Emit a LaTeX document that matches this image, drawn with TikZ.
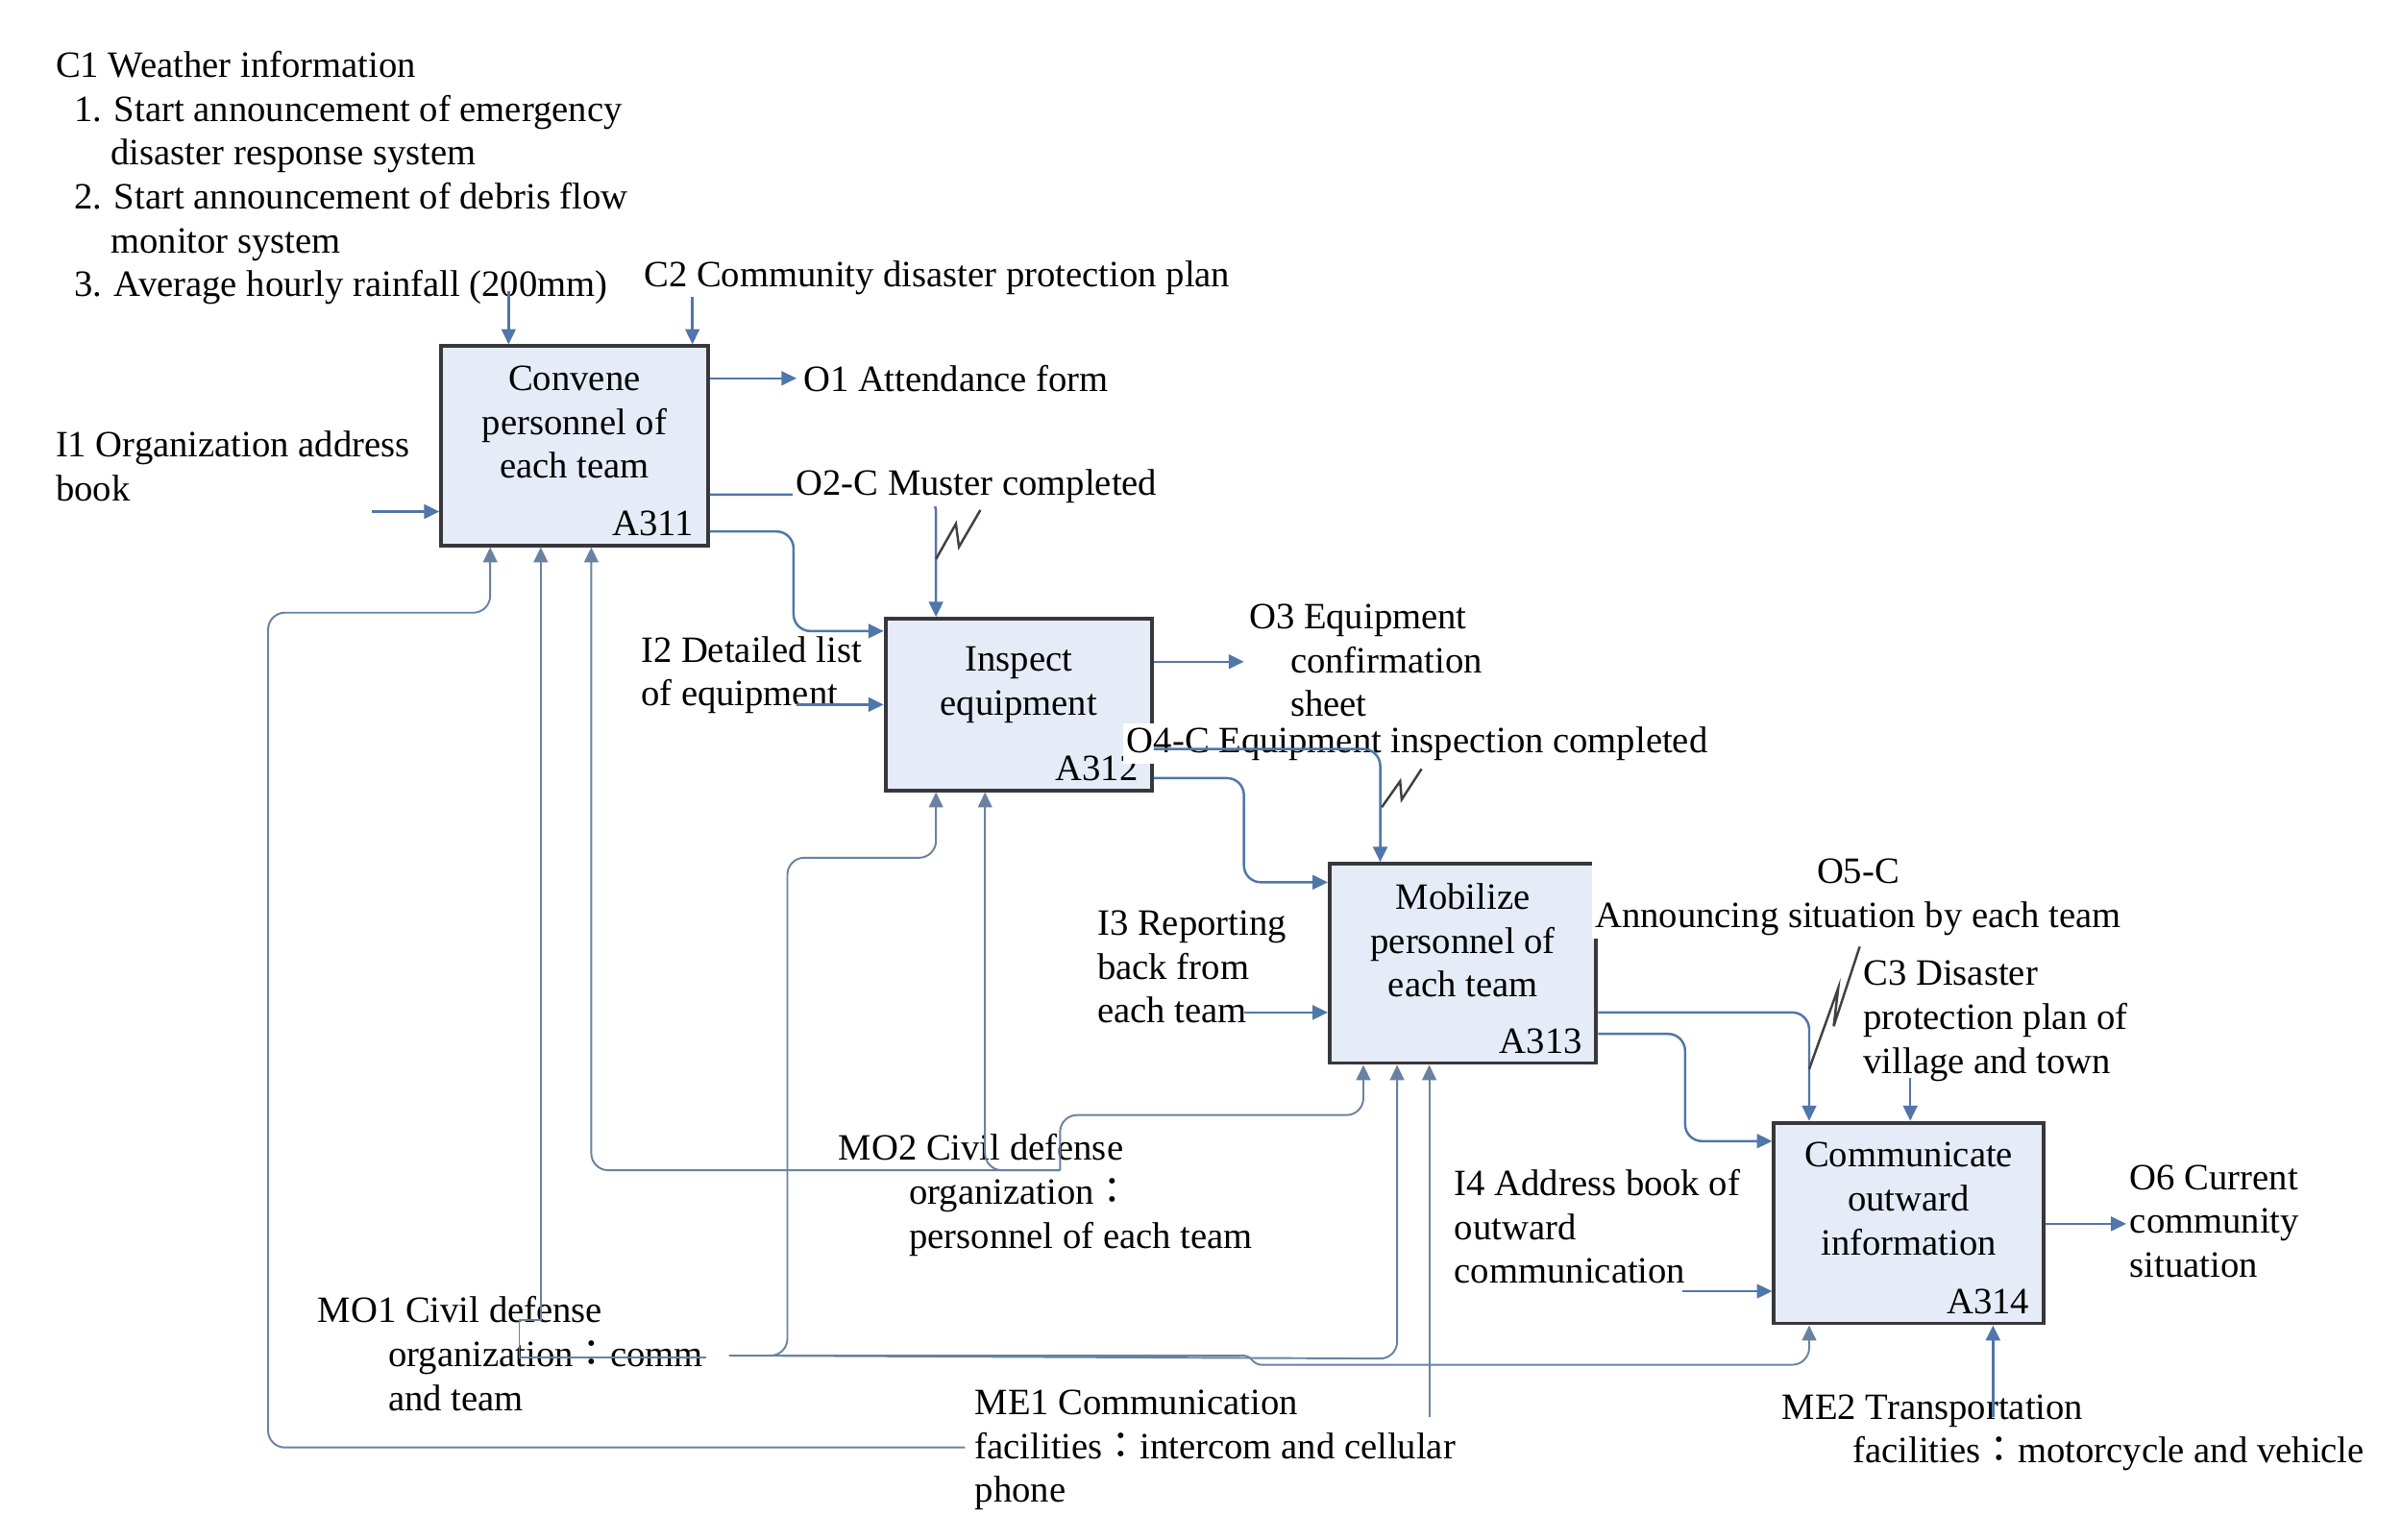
\documentclass[tikz,border=0pt]{standalone}
\usepackage{fontspec}
\setmainfont{Liberation Serif}
\newfontfamily\cjk{Noto Sans CJK TC}
\usetikzlibrary{arrows.meta, positioning}

\definecolor{flowblue}{RGB}{80, 118, 170}
\definecolor{mechblue}{RGB}{105, 130, 160}
\definecolor{boxfill}{RGB}{229, 235, 247}
\definecolor{boxline}{RGB}{55, 55, 60}

\newcommand{\fwcolon}{{\cjk ：}}

\begin{document}
\begin{tikzpicture}[x=0.015944cm, y=-0.015944cm,
  font=\fontsize{11}{13}\selectfont,
  proc/.style={draw=boxline, line width=1.1pt, fill=boxfill, inner sep=0pt},
  ptext/.style={align=center, inner sep=0pt},
  pcode/.style={inner sep=0pt},
  lbl/.style={anchor=north west, align=left, inner sep=0pt},
  cover/.style={fill=white, inner sep=1pt},
  flow/.style={draw=flowblue, line width=0.7pt, rounded corners=5pt,
    -{Triangle[length=4.5pt, width=4.2pt]}},
  mech/.style={flow, draw=mechblue, line width=0.55pt},
  squig/.style={draw=black!75, line width=0.7pt}]
  \useasboundingbox (0,0) rectangle (1568,1005);

  % Activity boxes
  \node[proc, minimum width=2.774cm, minimum height=2.073cm] (a311) at (375,291) {};
  \node[proc, minimum width=2.774cm, minimum height=1.786cm] (a312) at (665,460) {};
  \node[proc, minimum width=2.774cm, minimum height=2.073cm] (a313) at (955,629) {};
  \node[proc, minimum width=2.806cm, minimum height=2.089cm] (a314) at (1246,798.5) {};

  \node[ptext, below=6.2pt of a311.north] (a311t) {Convene\\personnel of\\each team};
  \node[ptext, below=8.6pt of a312.north] (a312t) {Inspect\\equipment};
  \node[ptext, below=6.2pt of a313.north] (a313t) {Mobilize\\personnel of\\each team};
  \node[ptext, below=6.2pt of a314.north] (a314t) {Communicate\\outward\\information};
  \node[pcode, above left=3.2pt and 4.5pt of a311.south east] (a311c) {A311};
  \node[pcode, above left=3.2pt and 4.5pt of a312.south east] (a312c) {A312};
  \node[pcode, above left=3.2pt and 4.5pt of a313.south east] (a313c) {A313};
  \node[pcode, above left=3.2pt and 4.5pt of a314.south east] (a314c) {A314};

  % Labels
  \node[lbl] (c1) at (36,33) {C1 Weather information\\
    \hspace*{5.4pt}1. Start announcement of emergency\\
    \hspace*{16.3pt}disaster response system\\
    \hspace*{5.4pt}2. Start announcement of debris flow\\
    \hspace*{16.3pt}monitor system\\
    \hspace*{5.4pt}3. Average hourly rainfall (200mm)};
  \node[lbl] (c2) at (420,170) {C2 Community disaster protection plan};
  \node[lbl] (o1) at (524,238) {O1 Attendance form};
  \node[lbl] (i1) at (36,281) {I1 Organization address\\book};
  \node[lbl] (i2) at (418,415) {I2 Detailed list\\of equipment};
  \node[lbl] (o3) at (815,394) {O3 Equipment\\\hspace*{12.2pt}confirmation\\\hspace*{12.2pt}sheet};
  \node[lbl, cover] (o4) at (733,472) {O4-C Equipment inspection completed};
  \node[lbl] (i3) at (716,594) {I3 Reporting\\back from\\each team};
  \node[anchor=north, align=center, cover] (o5) at (1213,558) {O5-C\\Announcing situation by each team};
  \node[lbl] (c3) at (1216,627) {C3 Disaster\\protection plan of\\village and town};
  \node[lbl] (i4) at (949,763) {I4 Address book of\\outward\\communication};
  \node[lbl] (o6) at (1390,760) {O6 Current\\community\\situation};
  \node[lbl] (mo2) at (547,740) {MO2 Civil defense\\
    \hspace*{20.9pt}organization\fwcolon\\
    \hspace*{20.9pt}personnel of each team};
  \node[lbl] (mo1) at (207,846) {MO1 Civil defense\\
    \hspace*{20.9pt}organization\fwcolon comm\\
    \hspace*{20.9pt}and team};
  \node[lbl] (me1) at (636,907) {ME1 Communication\\
    facilities\fwcolon intercom and cellular\\phone};
  \node[lbl] (me2) at (1163,910) {ME2 Transportation\\
    \hspace*{20.9pt}facilities\fwcolon motorcycle and vehicle};

  % Free ends
  \coordinate (c1end) at (332,190);
  \coordinate (c2end) at (452,194);
  \coordinate (o1tip) at (520,247);
  \coordinate (i1end) at (243,334);
  \coordinate (i2end) at (520,460);
  \coordinate (o3tip) at (812,432);
  \coordinate (i3end) at (812,661);
  \coordinate (c3end) at (1247,704);
  \coordinate (i4end) at (1098,843);
  \coordinate (o6tip) at (1388,799);
  \coordinate (me2end) at (1301,925);
  \coordinate (me1src) at (630,945);
  \coordinate (me1up) at (933,925);
  \coordinate (mo1src) at (461,886);
  \coordinate (mo1out) at (476,885);
  \coordinate (mo2src) at (692,764);

  % Controls, inputs and outputs
  \draw[flow] (c1end) -- (c1end |- a311.north);
  \draw[flow] (c2end) -- (c2end |- a311.north);
  \draw[flow] (o1tip -| a311.east) -- (o1tip);
  \draw[flow] (i1end) -- (i1end -| a311.west);
  \draw[flow] (a311.east |- 0,323) -- (611,323) -- (a312.north -| 611,0);
  \draw[squig] (611,365) -- (624,342) -- (626,357) -- (640,333);
  \draw[flow] (a311.east |- 0,347) -- (518,347) -- (518,412) -- (a312.west |- 0,412);
  \draw[flow] (i2end) -- (i2end -| a312.west);
  \draw[flow] (o3tip -| a312.east) -- (o3tip);
  \draw[flow] (a312.east |- 0,489) -- (901,489) -- (a313.north -| 901,0);
  \draw[squig] (902,527) -- (914,510) -- (915,522) -- (928,502);
  \draw[flow] (a312.east |- 0,508) -- (812,508) -- (812,576) -- (a313.west |- 0,576);
  \draw[flow] (i3end) -- (i3end -| a313.west);
  \draw[flow] (a313.east |- 0,661) -- (1181,661) -- (a314.north -| 1181,0);
  \draw[squig] (1214,618) -- (1197,670) -- (1200,645) -- (1181,698);
  \draw[flow] (a313.east |- 0,675) -- (1100,675) -- (1100,745) -- (a314.west |- 0,745);
  \draw[flow] (c3end) -- (c3end |- a314.north);
  \draw[flow] (i4end) -- (i4end -| a314.west);
  \draw[flow] (o6tip -| a314.east) -- (o6tip);
  \draw[flow] (me2end) -- (me2end |- a314.south);

  % Mechanisms
  \draw[mech] (me1src) -- (175,945) -- (175,400) -- (320,400) -- (a311.south -| 320,0);
  \draw[mech] (me1up) -- (me1up |- a313.south);
  \draw[mech, rounded corners=0pt] (mo1src) -- (339,886) -- (339,862) -- (353,862) -- (a311.south -| 353,0);
  \draw[mech] (mo1out) -- (514,885) -- (514,560) -- (611,560) -- (a312.south -| 611,0);
  \draw[mech] (mo1out) -- (912,887) -- (a313.south -| 912,0);
  \draw[mech, rounded corners=1.5pt] (mo1out) -- (815,885) -- (820,891)
    [rounded corners=5pt] -- (1181,891) -- (a314.south -| 1181,0);
  \draw[mech] (mo2src) -- (386,764) -- (a311.south -| 386,0);
  \draw[mech] (mo2src) -- (643,764) -- (a312.south -| 643,0);
  \draw[mech] (mo2src) -- (692,728) -- (890,728) -- (a313.south -| 890,0);

  % Label drawn over its connector
  \node[lbl, cover] (o2) at (517,304) {O2-C Muster completed};
\end{tikzpicture}
\end{document}
